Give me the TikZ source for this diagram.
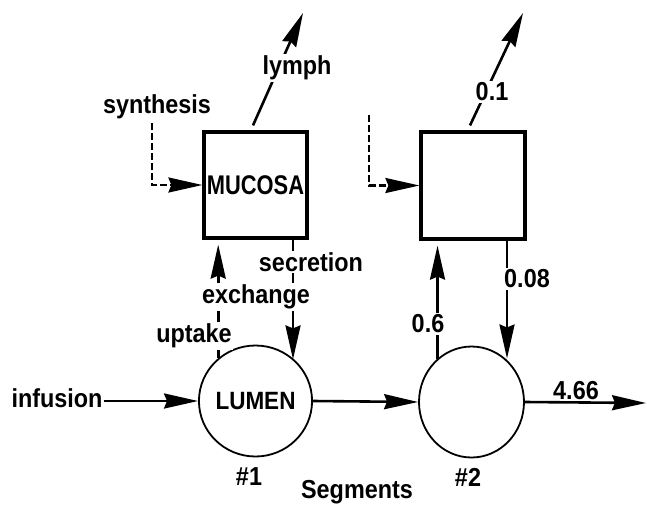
\documentclass[tikz,border=0pt]{standalone}
\usepackage{fontspec}
\setmainfont{Liberation Sans}[FakeStretch=0.9]
\usetikzlibrary{arrows.meta,shapes.geometric}
\begin{document}
\begin{tikzpicture}[x=1pt,y=-1pt,
  lbl/.style={font=\fontsize{26}{28}\selectfont\bfseries, inner sep=1pt},
  mask/.style={lbl, fill=white, inner sep=1.5pt},
  tip/.style={-{Stealth[length=34pt,width=15pt,inset=3pt]}},
  flow/.style={tip, line width=2.6pt},
  synflow/.style={tip, line width=2.2pt, dash pattern=on 7pt off 3pt},
  box/.style={draw, line width=3.2pt, minimum width=103pt, minimum height=106pt, inner sep=0pt},
  pool/.style={draw, ellipse, line width=1.8pt, minimum width=103pt, minimum height=111pt, inner sep=0pt}]
\useasboundingbox (0,0) rectangle (647,506);

% compartments
\node[box, font=\fontsize{27}{29}\selectfont\bfseries] (b1) at (255.5,185) {\raisebox{-4pt}{\scalebox{0.9}[1]{MUCOSA}}};
\node[box, minimum width=104pt, minimum height=107pt] (b2) at (473,185.5) {};
\node[pool, font=\fontsize{25}{27}\selectfont\bfseries] (c1) at (255.5,401) {LUMEN};
\node[pool, minimum width=105pt] (c2) at (471.5,402) {};

% free ends
\coordinate (l1end) at (303,13);
\coordinate (l2end) at (523,13);
\coordinate (s2start) at (369,115);
\coordinate (outend) at (646,403);

% segment 1 exchanges
\draw[flow, shorten >=5pt] (c1.131) -- (c1.131 |- b1.south);
\draw[flow] ([xshift=37.5pt]b1.south) -- ([xshift=37.5pt]b1.south |- c1.47);
\node[mask] (sec) at (311,262) {secretion};
\node[mask] (exch) at (256,297) {exchange};
\node[mask] (upt) at (194,336) {uptake};

% segment 2 exchanges
\draw[flow, shorten >=5pt] (c2.128) -- (c2.128 |- b2.south);
\draw[flow] ([xshift=34pt]b2.south) -- ([xshift=34pt]b2.south |- c2.52);
\node[mask] (k21) at (428,324) {0.6};
\node[mask] (k12) at (527,279) {0.08};

% lymph
\draw[flow] ([xshift=-2.5pt,yshift=5pt]b1.north) -- (l1end);
\node[mask] (lym) at (297,68) {lymph};
\draw[flow] ([xshift=-3pt,yshift=5pt]b2.north) -- (l2end);
\node[mask] (ly2) at (492,92) {0.1};

% synthesis
\node[lbl] (syn) at (157,107) {synthesis};
\draw[synflow] ([xshift=-5pt,yshift=-3pt]syn.south) |- (b1.west);
\draw[synflow] (s2start) |- (b2.west);

% lumen flow
\node[lbl] (inf) at (57,398) {infusion};
\draw[flow] (inf.east |- c1.west) -- (c1.west);
\draw[flow] (c1.east) -- (c2.west);
\draw[flow] (c2.east) -- (outend);
\node[lbl] (k20) at (576,391) {4.66};

% segment labels
\node[lbl] (n1) at (249,477) {\#1};
\node[lbl] (n2) at (468,477) {\#2};
\node[lbl] (seg) at (357,492) {Segments};
\end{tikzpicture}
\end{document}
